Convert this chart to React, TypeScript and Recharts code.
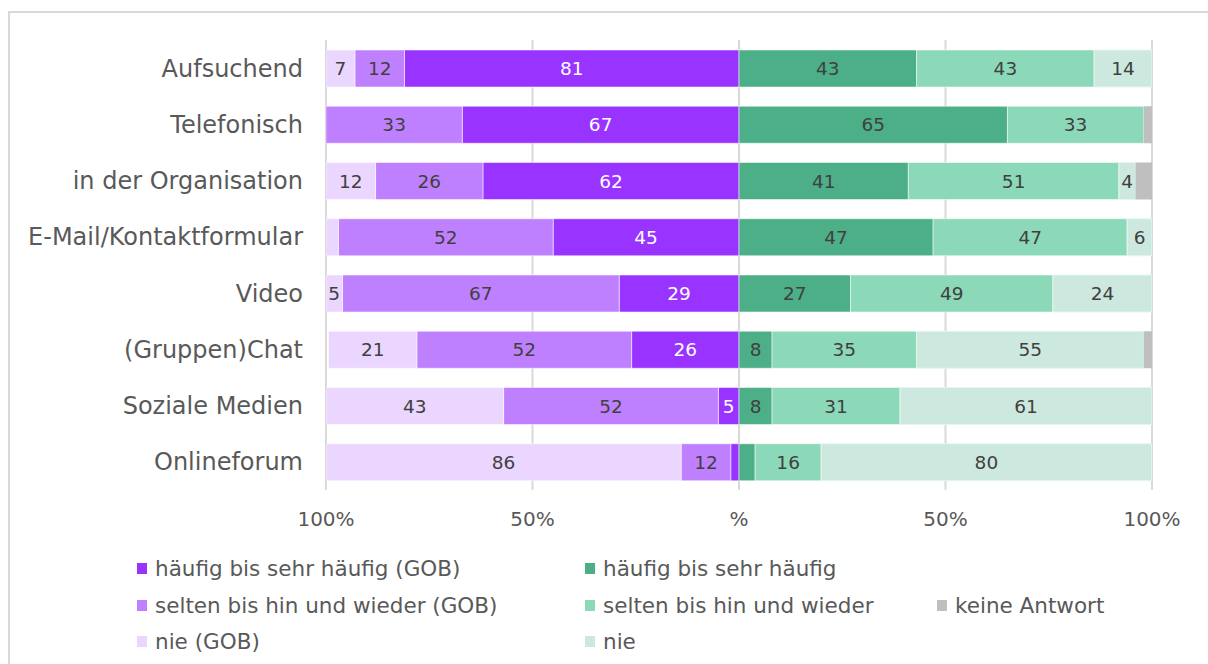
import React from 'react';
import { BarChart, Bar, XAxis, YAxis, CartesianGrid, LabelList } from 'recharts';

const categories = [
  'Aufsuchend',
  'Telefonisch',
  'in der Organisation',
  'E-Mail/Kontaktformular',
  'Video',
  '(Gruppen)Chat',
  'Soziale Medien',
  'Onlineforum',
];

// GOB (left side)
const gobHaeufig = [81, 67, 62, 45, 29, 26, 5, 2];
const gobSelten = [12, 33, 26, 52, 67, 52, 52, 12];
const gobNie = [7, 0, 12, 3, 5, 21.4, 43, 86];

// right side
const haeufig = [43, 65, 41, 47, 27, 8, 8, 3.9];
const selten = [43, 33, 51, 47, 49, 35, 31, 16];
const nie = [14, 0, 4, 6, 24, 55, 61, 80];
const keineAntwort = [0, 2, 4, 0, 0, 2, 0, 0];

const xTicks = [-100, -50, 0, 50, 100];

const FONT = '"DejaVu Sans", Verdana, sans-serif';
const TEXT = '#595959';

const C = {
  gobHaeufig: '#9933FF',
  gobSelten: '#BF80FF',
  gobNie: '#EAD6FF',
  haeufig: '#4CAF88',
  selten: '#8BD9B9',
  nie: '#CDE9DF',
  keine: '#BFBFBF',
};

const chartData = categories.map((name, i) => ({
  name,
  gobHaeufig: -gobHaeufig[i],
  gobSelten: -gobSelten[i],
  gobNie: -gobNie[i],
  haeufig: haeufig[i],
  selten: selten[i],
  nie: nie[i],
  keine: keineAntwort[i],
}));

const makeLabel = (fill: string) => (props: any) => {
  const { x, y, width, height, value } = props;
  if (value == null || Math.abs(value) < 4) return null;
  return (
    <text
      x={x + width / 2}
      y={y + height / 2}
      textAnchor="middle"
      dominantBaseline="central"
      fill={fill}
      fontSize={18.5}
      fontFamily={FONT}
    >
      {Math.round(Math.abs(value))}
    </text>
  );
};

const legendItems = [
  { label: 'häufig bis sehr häufig (GOB)', color: C.gobHaeufig, left: 137, top: 568 },
  { label: 'häufig bis sehr häufig', color: C.haeufig, left: 585, top: 568 },
  { label: 'selten bis hin und wieder (GOB)', color: C.gobSelten, left: 137, top: 605 },
  { label: 'selten bis hin und wieder', color: C.selten, left: 585, top: 605 },
  { label: 'keine Antwort', color: C.keine, left: 937, top: 605 },
  { label: 'nie (GOB)', color: C.gobNie, left: 137, top: 641 },
  { label: 'nie', color: C.nie, left: 585, top: 641 },
];

const App: React.FC = () => {
  return (
    <div style={{ position: 'relative', width: 1208, height: 664, overflow: 'hidden', background: '#fff' }}>
      <style>{`body{margin:0;overflow:hidden}`}</style>
      <div
        style={{
          position: 'absolute',
          left: 8,
          top: 11,
          width: 1300,
          height: 700,
          borderLeft: '2px solid #D9D9D9',
          borderTop: '2px solid #D9D9D9',
        }}
      />
      <div style={{ position: 'absolute', left: 0, top: 0 }}>
        <BarChart
          width={1208}
          height={540}
          data={chartData}
          layout="vertical"
          stackOffset="sign"
          barSize={37}
          margin={{ top: 40, right: 56, bottom: 10, left: 0 }}
        >
          <CartesianGrid horizontal={false} stroke="#D9D9D9" strokeWidth={2} />
          <XAxis
            type="number"
            domain={[-100, 100]}
            ticks={xTicks}
            allowDataOverflow
            axisLine={false}
            tickLine={false}
            tickSize={0}
            tickMargin={22}
            height={40}
            tick={{ fill: TEXT, fontSize: 20, fontFamily: FONT }}
            tickFormatter={(v: number) => (v === 0 ? '%' : `${Math.abs(v)}%`)}
          />
          <YAxis
            type="category"
            dataKey="name"
            width={326}
            axisLine={false}
            tickLine={false}
            tickSize={0}
            tickMargin={23}
            tick={{ fill: TEXT, fontSize: 24, fontFamily: FONT }}
          />
          <Bar dataKey="gobHaeufig" stackId="s" fill={C.gobHaeufig} stroke="#fff" strokeOpacity={0.5} isAnimationActive={false}>
            <LabelList dataKey="gobHaeufig" content={makeLabel('#ffffff')} />
          </Bar>
          <Bar dataKey="gobSelten" stackId="s" fill={C.gobSelten} stroke="#fff" strokeOpacity={0.5} isAnimationActive={false}>
            <LabelList dataKey="gobSelten" content={makeLabel('#404040')} />
          </Bar>
          <Bar dataKey="gobNie" stackId="s" fill={C.gobNie} stroke="#fff" strokeOpacity={0.5} isAnimationActive={false}>
            <LabelList dataKey="gobNie" content={makeLabel('#404040')} />
          </Bar>
          <Bar dataKey="haeufig" stackId="s" fill={C.haeufig} stroke="#fff" strokeOpacity={0.5} isAnimationActive={false}>
            <LabelList dataKey="haeufig" content={makeLabel('#404040')} />
          </Bar>
          <Bar dataKey="selten" stackId="s" fill={C.selten} stroke="#fff" strokeOpacity={0.5} isAnimationActive={false}>
            <LabelList dataKey="selten" content={makeLabel('#404040')} />
          </Bar>
          <Bar dataKey="nie" stackId="s" fill={C.nie} stroke="#E4F6EF" isAnimationActive={false}>
            <LabelList dataKey="nie" content={makeLabel('#404040')} />
          </Bar>
          <Bar dataKey="keine" stackId="s" fill={C.keine} isAnimationActive={false} />
        </BarChart>
      </div>
      {legendItems.map((item) => (
        <div
          key={item.label}
          style={{
            position: 'absolute',
            left: item.left,
            top: item.top - 14,
            height: 28,
            display: 'flex',
            alignItems: 'center',
            fontFamily: FONT,
            fontSize: 21.5,
            color: TEXT,
            whiteSpace: 'nowrap',
          }}
        >
          <span style={{ display: 'inline-block', width: 10, height: 11, background: item.color, marginRight: 8 }} />
          {item.label}
        </div>
      ))}
    </div>
  );
};

export default App;
